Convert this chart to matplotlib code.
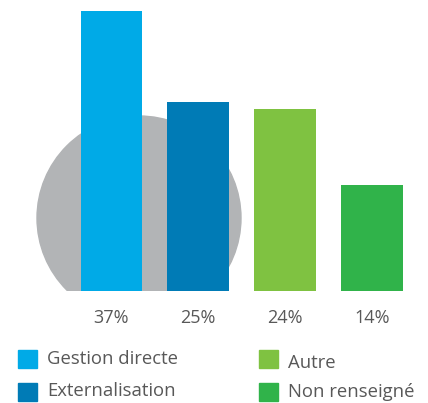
import matplotlib
matplotlib.use("Agg")
import matplotlib.pyplot as plt
from matplotlib.patches import Ellipse, Rectangle

plt.rcParams["font.family"] = ["Open Sans", "DejaVu Sans"]

# ----- données -----
categories = ["Gestion directe", "Externalisation", "Autre", "Non renseigné"]
valeurs = [37, 25, 24, 14]
couleurs = ["#00AAE7", "#007BB6", "#7FC241", "#30B34A"]
gris_texte = "#585858"

W, H = 428, 403
fig = plt.figure(figsize=(W / 100, H / 100), dpi=100)

# axe des barres : base à y=291 px, pas de 87 px entre les barres
base_px = 291
px_par_pct = 7.57
pas_px = 86.8
x0_px = 111.5
ax = fig.add_axes([0, (H - base_px) / H, 1, base_px / H])
ax.set_xlim(-x0_px / pas_px, (W - x0_px) / pas_px)
ax.set_ylim(0, base_px / px_par_pct)
ax.axis("off")

# disque gris derrière les deux premières barres, coupé par la base
cx_px, cy_px, r_px = 139, 218, 102
ax.add_patch(Ellipse(((cx_px - x0_px) / pas_px, (base_px - cy_px) / px_par_pct),
                     2 * r_px / pas_px, 2 * r_px / px_par_pct,
                     color="#B2B4B6", zorder=1))

pos = range(len(valeurs))
ax.bar(pos, valeurs, width=0.71, color=couleurs, zorder=2)

# étiquettes de pourcentage sous les barres
for i, v in zip(pos, valeurs):
    ax.text(i, -27 / px_par_pct, f"{v}%", ha="center", va="center",
            fontsize=13, color=gris_texte, clip_on=False)

# légende manuelle sur deux colonnes
leg = fig.add_axes([0, 0, 1, 1])
leg.set_xlim(0, W)
leg.set_ylim(H, 0)
leg.axis("off")
places = [(18, 350, 359), (18, 383, 391), (259, 350, 363), (259, 383, 392)]
for (x, y, yt), nom, c in zip(places, categories, couleurs):
    leg.add_patch(Rectangle((x, y), 19, 18, color=c))
    leg.text(x + 29, yt, nom, ha="left", va="center", fontsize=13.3,
             color=gris_texte)

fig.savefig("out.png", dpi=100)
